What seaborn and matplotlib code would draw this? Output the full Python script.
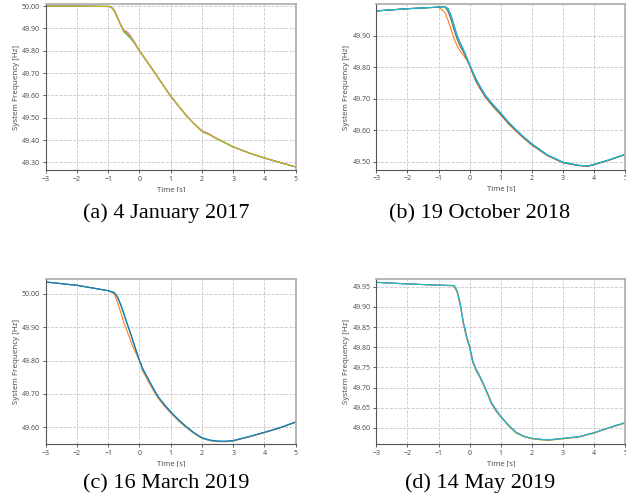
import numpy as np
import pandas as pd
import matplotlib
matplotlib.use("Agg")
import matplotlib.pyplot as plt
from matplotlib.patches import Rectangle
import seaborn as sns

# ---------------- data ----------------
# Panel (a) 4 January 2017
t_a = [-3, -2, -1, -0.9, -0.8, -0.7, -0.6, -0.5, -0.4, -0.3, -0.2, -0.1, 0, 0.25, 0.5, 0.75, 1,
       1.25, 1.5, 1.75, 2, 2.1, 2.2, 2.5, 3, 3.5, 4, 4.5, 5]
a_olive = [50.00, 50.00, 49.998, 49.995, 49.975, 49.945, 49.915, 49.89, 49.878, 49.862, 49.845, 49.823,
           49.80, 49.75, 49.70, 49.648, 49.597, 49.553, 49.51, 49.473, 49.44, 49.433, 49.428, 49.405,
           49.37, 49.343, 49.32, 49.30, 49.28]
a_pink = [50.00, 50.00, 49.998, 49.996, 49.978, 49.948, 49.918, 49.893, 49.886, 49.870, 49.849, 49.825,
          49.80, 49.751, 49.701, 49.649, 49.598, 49.554, 49.511, 49.474, 49.442, 49.437, 49.430, 49.406,
          49.37, 49.343, 49.32, 49.30, 49.28]
a_green = [50.00, 50.00, 49.999, 49.997, 49.980, 49.950, 49.915, 49.886, 49.872, 49.858, 49.842, 49.821,
           49.799, 49.749, 49.699, 49.647, 49.596, 49.552, 49.509, 49.472, 49.439, 49.432, 49.427, 49.404,
           49.369, 49.342, 49.319, 49.299, 49.279]
a_brown = [50.00, 50.00, 49.998, 49.995, 49.976, 49.946, 49.916, 49.891, 49.880, 49.864, 49.846, 49.823,
           49.80, 49.750, 49.70, 49.648, 49.597, 49.553, 49.51, 49.473, 49.44, 49.434, 49.428, 49.405,
           49.37, 49.343, 49.32, 49.30, 49.28]

# Panel (b) 19 October 2018
t_b = [-3, -2, -1, -0.8, -0.7, -0.6, -0.5, -0.4, -0.3, -0.2, -0.1, 0, 0.1, 0.2, 0.35, 0.5, 0.75, 1,
       1.25, 1.5, 1.75, 2, 2.5, 3, 3.5, 3.8, 4, 4.5, 5]
b_cyan = [49.979, 49.986, 49.991, 49.993, 49.985, 49.962, 49.93, 49.897, 49.875, 49.855, 49.832, 49.807,
          49.785, 49.762, 49.735, 49.71, 49.68, 49.653, 49.625, 49.60, 49.577, 49.556, 49.521, 49.498,
          49.489, 49.487, 49.492, 49.507, 49.524]
b_orange = [49.979, 49.986, 49.991, 49.975, 49.950, 49.920, 49.890, 49.868, 49.850, 49.838, 49.825, 49.805,
            49.778, 49.755, 49.729, 49.705, 49.675, 49.648, 49.620, 49.596, 49.573, 49.553, 49.519, 49.497,
            49.488, 49.486, 49.491, 49.506, 49.523]
b_brown = [49.979, 49.986, 49.991, 49.992, 49.978, 49.952, 49.918, 49.888, 49.866, 49.848, 49.828, 49.806,
           49.782, 49.758, 49.731, 49.707, 49.677, 49.650, 49.622, 49.598, 49.575, 49.554, 49.520, 49.497,
           49.488, 49.486, 49.491, 49.506, 49.523]
b_blue = [49.979, 49.986, 49.991, 49.993, 49.987, 49.965, 49.933, 49.900, 49.877, 49.856, 49.833, 49.808,
          49.786, 49.764, 49.737, 49.712, 49.682, 49.655, 49.626, 49.601, 49.578, 49.557, 49.522, 49.499,
          49.489, 49.487, 49.492, 49.507, 49.524]

# Panel (c) 16 March 2019
t_c = [-3, -2, -1, -0.8, -0.7, -0.6, -0.5, -0.4, -0.3, -0.2, -0.1, 0, 0.05, 0.1, 0.2, 0.3, 0.45, 0.6,
       0.8, 1, 1.25, 1.5, 1.75, 2, 2.25, 2.5, 2.75, 3, 3.5, 4, 4.5, 5]
c_blue = [50.036, 50.026, 50.010, 50.004, 49.990, 49.967, 49.940, 49.912, 49.885, 49.857, 49.828, 49.800,
          49.790, 49.778, 49.760, 49.742, 49.716, 49.692, 49.668, 49.647, 49.623, 49.602, 49.584, 49.569,
          49.562, 49.559, 49.558, 49.560, 49.572, 49.585, 49.599, 49.616]
c_cyan = [50.036, 50.026, 50.010, 50.004, 49.992, 49.970, 49.943, 49.914, 49.887, 49.858, 49.829, 49.801,
          49.788, 49.775, 49.758, 49.741, 49.715, 49.691, 49.667, 49.646, 49.622, 49.601, 49.583, 49.568,
          49.561, 49.558, 49.558, 49.560, 49.572, 49.585, 49.599, 49.616]
c_orange = [50.036, 50.026, 50.010, 50.000, 49.975, 49.945, 49.915, 49.890, 49.865, 49.840, 49.820, 49.800,
            49.785, 49.770, 49.752, 49.735, 49.710, 49.687, 49.663, 49.643, 49.619, 49.599, 49.581, 49.567,
            49.560, 49.557, 49.557, 49.559, 49.571, 49.584, 49.598, 49.615]
c_gray = [50.036, 50.026, 50.010, 50.004, 49.991, 49.968, 49.941, 49.913, 49.886, 49.858, 49.829, 49.801,
          49.791, 49.772, 49.759, 49.741, 49.715, 49.691, 49.667, 49.646, 49.622, 49.601, 49.583, 49.568,
          49.561, 49.558, 49.558, 49.560, 49.572, 49.585, 49.599, 49.616]

# Panel (d) 14 May 2019
t_d = [-3, -2, -1, -0.5, -0.4, -0.3, -0.2, -0.1, 0, 0.1, 0.2, 0.3, 0.4, 0.5, 0.6, 0.7, 0.85, 1,
       1.25, 1.5, 1.75, 2, 2.5, 3, 3.5, 4, 4.5, 5]
d_cyan = [49.961, 49.957, 49.954, 49.953, 49.938, 49.905, 49.859, 49.826, 49.800, 49.764, 49.745, 49.731,
          49.715, 49.698, 49.680, 49.661, 49.643, 49.628, 49.606, 49.588, 49.579, 49.574, 49.570, 49.574,
          49.578, 49.588, 49.601, 49.613]
d_purple = [49.961, 49.957, 49.954, 49.953, 49.940, 49.908, 49.862, 49.829, 49.803, 49.767, 49.747, 49.733,
            49.717, 49.700, 49.682, 49.663, 49.645, 49.629, 49.607, 49.589, 49.579, 49.574, 49.570, 49.574,
            49.578, 49.588, 49.601, 49.613]
d_orange = [49.961, 49.957, 49.954, 49.952, 49.935, 49.902, 49.856, 49.823, 49.798, 49.762, 49.743, 49.729,
            49.713, 49.696, 49.678, 49.659, 49.641, 49.627, 49.605, 49.587, 49.578, 49.573, 49.569, 49.573,
            49.577, 49.587, 49.600, 49.612]
d_olive = [49.961, 49.957, 49.954, 49.953, 49.937, 49.904, 49.858, 49.825, 49.799, 49.763, 49.744, 49.730,
           49.714, 49.697, 49.679, 49.660, 49.642, 49.627, 49.605, 49.587, 49.578, 49.573, 49.569, 49.573,
           49.578, 49.588, 49.601, 49.613]

captions = ["(a) 4 January 2017", "(b) 19 October 2018", "(c) 16 March 2019", "(d) 14 May 2019"]
x_ticks = [-3, -2, -1, 0, 1, 2, 3, 4, 5]
y_ticks_a = [49.30, 49.40, 49.50, 49.60, 49.70, 49.80, 49.90, 50.00]
y_ticks_b = [49.50, 49.60, 49.70, 49.80, 49.90]
y_ticks_c = [49.60, 49.70, 49.80, 49.90, 50.00]
y_ticks_d = [49.60, 49.65, 49.70, 49.75, 49.80, 49.85, 49.90, 49.95]

tab = sns.color_palette("tab10")
C = {"blue": tab[0], "orange": tab[1], "green": tab[2], "red": tab[3], "purple": tab[4],
     "brown": tab[5], "pink": tab[6], "gray": tab[7], "olive": tab[8], "cyan": tab[9]}

panels = [
    dict(t=t_a, series={"brown": a_brown, "green": a_green, "pink": a_pink, "olive": a_olive},
         ylim=(49.266, 50.008), yticks=y_ticks_a),
    dict(t=t_b, series={"orange": b_orange, "brown": b_brown, "blue": b_blue, "cyan": b_cyan},
         ylim=(49.475, 50.000), yticks=y_ticks_b),
    dict(t=t_c, series={"orange": c_orange, "gray": c_gray, "cyan": c_cyan, "blue": c_blue},
         ylim=(49.55, 50.045), yticks=y_ticks_c),
    dict(t=t_d, series={"orange": d_orange, "olive": d_olive, "purple": d_purple, "cyan": d_cyan},
         ylim=(49.56, 49.97), yticks=y_ticks_d),
]

# ---------------- figure ----------------
sns.set_theme(style="whitegrid")
plt.rcParams["font.family"] = ["Open Sans", "DejaVu Sans"]

fig = plt.figure(figsize=(6.26, 5.04), dpi=100)
W, H = 626, 504
boxes = [(45.7, 4.3, 250.0, 165.7), (376.3, 4.3, 249.0, 165.4),
         (45.7, 279.0, 250.0, 165.0), (376.3, 278.7, 249.0, 165.3)]
cap_pos = [(166, 213.5), (480, 213.5), (166, 483.5), (480, 483.5)]
cut_y = [192, 192, 466.5, 466.5]

for i, (p, b) in enumerate(zip(panels, boxes)):
    x0, y0, w, h = b
    ax = fig.add_axes([x0 / W, 1 - (y0 + h) / H, w / W, h / H])
    rows = []
    for name, vals in p["series"].items():
        for tt, vv in zip(p["t"], vals):
            rows.append((name, tt, vv))
    df = pd.DataFrame(rows, columns=["station", "t", "f"])
    order = list(p["series"].keys())
    sns.lineplot(data=df, x="t", y="f", hue="station", hue_order=order,
                 palette=[C[k] for k in order], linewidth=0.8, ax=ax, legend=False,
                 estimator=None, sort=True)
    ax.set_xlim(-3, 5)
    ax.set_ylim(*p["ylim"])
    ax.set_xticks(x_ticks)
    ax.set_xticklabels(["\u22123", "\u22122", "\u22121", "0", "1", "2", "3", "4", "5"])
    ax.set_yticks(p["yticks"])
    ax.set_yticklabels([f"{v:.2f}" for v in p["yticks"]])
    ax.tick_params(axis="both", labelsize=5.0, colors="#444444", length=2.5, width=0.6,
                   direction="out", pad=1.5, bottom=True, left=True)
    ax.grid(True, color="#c8c8c8", linestyle="--", linewidth=0.6)
    ax.set_facecolor("white")
    for s in ["left", "bottom"]:
        ax.spines[s].set_color("#555555")
        ax.spines[s].set_linewidth(0.8)
    for s in ["top", "right"]:
        ax.spines[s].set_color("#aaaaaa")
        ax.spines[s].set_linewidth(1.2)
    ax.set_xlabel("Time [s]", fontsize=5.6, color="#444444", labelpad=2.5)
    ax.set_ylabel("System Frequency [Hz]", fontsize=5.8, color="#444444", labelpad=1.5)
    # cropped lower part of the x label, as in the reference
    fig.add_artist(Rectangle((x0 / W - 0.02, 1 - (cut_y[i] + 8) / H), w / W + 0.04, 8 / H,
                             transform=fig.transFigure, facecolor="white", edgecolor="none",
                             zorder=10))
    cx, cy = cap_pos[i]
    fig.text(cx / W, 1 - cy / H, captions[i], ha="center", va="center",
             family="Liberation Serif", fontsize=16, color="black", zorder=11)

fig.savefig("out.png", dpi=100, facecolor="white")
